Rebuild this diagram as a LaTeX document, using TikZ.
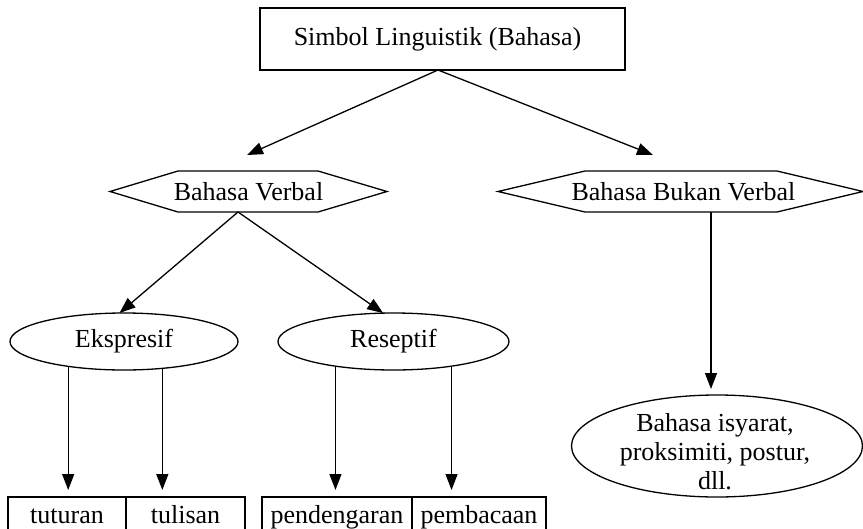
\documentclass[tikz,border=0pt]{standalone}
\usepackage{fontspec}
\setmainfont{Liberation Serif}
\usetikzlibrary{arrows.meta,calc,shapes.geometric}
\begin{document}
\begin{tikzpicture}[x=1pt,y=-1pt,
  every node/.style={font=\fontsize{26}{29}\selectfont, inner sep=0pt, outer sep=0pt},
  ln/.style={line width=1.3pt},
  arr/.style={ln, -{Triangle[length=16pt,width=12pt]}},
  cellbox/.style={draw, ln, rectangle, minimum height=40pt, text height=18pt, text depth=6pt},
  oval/.style={draw, ln, ellipse, minimum width=228pt, minimum height=57pt},
  hexlabel/.style={minimum height=41pt},
]
\useasboundingbox (0,0) rectangle (863,528);
\clip (0,0) rectangle (863,528);

% top box
\node[draw, ln, minimum width=365pt, minimum height=62pt] (top) at (442.5,39) {Simbol Linguistik (Bahasa)\hspace*{10pt}};

% hexagons
\node[hexlabel, minimum width=277pt] (bv) at (248.5,191.5) {Bahasa Verbal};
\draw[ln] (bv.west) -- ($(bv.north west)+(68,0)$) -- ($(bv.north east)+(-69,0)$) -- (bv.east)
  -- ($(bv.south east)+(-69,0)$) -- ($(bv.south west)+(68,0)$) -- cycle;
\node[hexlabel, minimum width=365pt] (bbv) at (680.5,191.5) {\hspace*{6pt}Bahasa Bukan Verbal};
\draw[ln] (bbv.west) -- ($(bbv.north west)+(87,0)$) -- ($(bbv.north east)+(-86,0)$) -- (bbv.east)
  -- ($(bbv.south east)+(-86,0)$) -- ($(bbv.south west)+(87,0)$) -- cycle;

% ellipses
\node[oval] (ek) at (124,341.5) {Ekspresif};
\node[oval, minimum width=231pt] (rs) at (393.5,341.5) {Reseptif};
\node[draw, ln, ellipse, minimum width=291pt, minimum height=102pt] (isy) at (717,446) {};
\node[align=center] (isyt) at (715,452) {Bahasa isyarat,\\proksimiti, postur,\\dll.};

% bottom cells
\node[cellbox, minimum width=118pt] (tt) at (67,517) {tuturan};
\node[cellbox, minimum width=119pt] (tl) at (185.5,517) {tulisan};
\node[cellbox, minimum width=150pt] (pd) at (337,517) {pendengaran};
\node[cellbox, minimum width=134pt] (pb) at (479,517) {pembacaan};

% connectors
\coordinate (apex) at ($(top.south)+(-4.5,0)$);
\coordinate (bvtip) at ($(bv.north)+(-1.5,-16)$);
\coordinate (bbvtip) at ($(bbv.north)+(-27.5,-16)$);
\draw[arr] (apex) -- (bvtip);
\draw[arr] (apex) -- (bbvtip);

\coordinate (bvout) at ($(bv.south)+(-10.5,0)$);
\draw[arr] (bvout) -- (ek.99);
\draw[arr] (bvout) -- (rs.110);

\draw[arr, shorten >=7pt] (ek.204) -- (ek.204 |- tt.north);
\draw[arr, shorten >=7pt] (ek.325) -- (ek.325 |- tl.north);
\draw[arr, shorten >=7pt] (rs.203) -- (rs.203 |- pd.north);
\draw[arr, shorten >=7pt] (rs.337) -- (rs.337 |- pb.north);

\coordinate (bbvout) at ($(bbv.south)+(30.5,0)$);
\draw[arr, shorten >=6pt] (bbvout) -- (bbvout |- isy.north);
\end{tikzpicture}
\end{document}
